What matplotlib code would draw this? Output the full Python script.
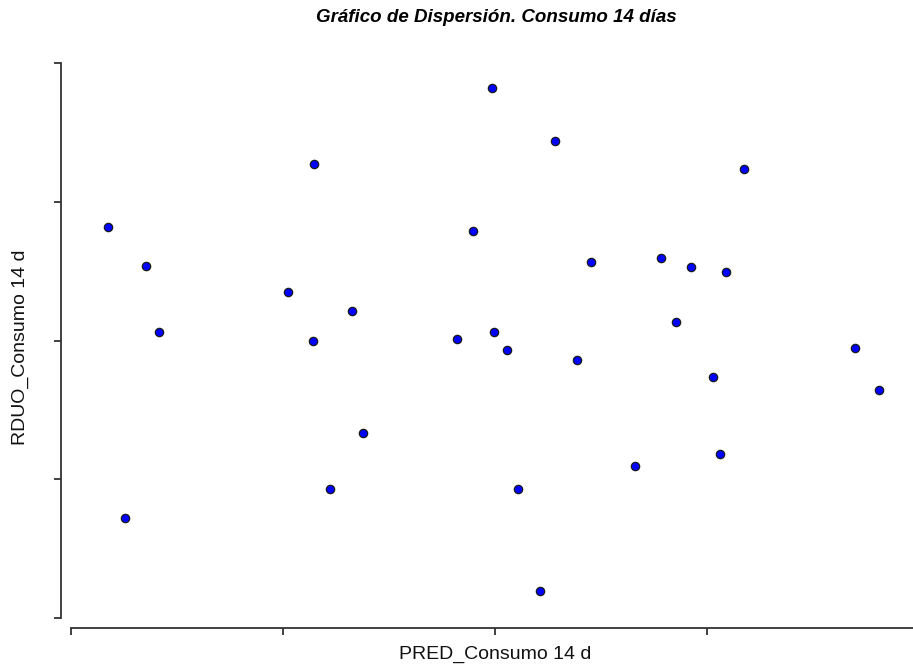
import matplotlib.pyplot as plt

plt.rcParams['font.family'] = ['Liberation Sans', 'DejaVu Sans']

# predicted vs residual, Consumo 14 d
pred = [0.175, 0.354, 0.415, 0.255, 1.024, 1.146, 1.142, 1.325, 1.222, 1.377,
        1.821, 1.896, 1.986, 1.995, 2.057, 2.108, 2.212, 2.283, 2.387, 2.453,
        2.660, 2.783, 2.854, 2.925, 3.028, 3.061, 3.090, 3.175, 3.698, 3.811]
rduo = [2.818, 2.537, 2.061, 0.721, 2.350, 3.272, 1.996, 2.213, 0.930, 1.334,
        2.011, 2.789, 3.819, 2.061, 1.931, 0.930, 0.195, 3.438, 1.859, 2.566,
        1.095, 2.595, 2.134, 2.530, 1.737, 1.182, 2.494, 3.236, 1.945, 1.643]

fig = plt.figure(figsize=(9.13, 6.68), dpi=100)
ax = fig.add_axes([71 / 913, 50 / 668, 842 / 913, 555 / 668])

ax.scatter(pred, rduo, s=36, c='#0000ff', edgecolors='#1a1a1a', linewidths=0.9,
           marker='o', zorder=3, clip_on=False)

ax.set_xlim(0, 842 / 212)
ax.set_ylim(0, 4)
ax.set_xticks([0, 1, 2, 3])
ax.set_yticks([0, 1, 2, 3, 4])
ax.set_xticklabels([])
ax.set_yticklabels([])

for side in ['top', 'right']:
    ax.spines[side].set_visible(False)
ax.spines['left'].set_position(('outward', 7.2))
ax.spines['bottom'].set_position(('outward', 7.2))
ax.spines['left'].set_bounds(0, 4)
for side in ['left', 'bottom']:
    ax.spines[side].set_color('#333333')
    ax.spines[side].set_linewidth(1.3)
ax.tick_params(direction='out', length=5, width=1.3, color='#333333')

fig.text(496 / 913, 1 - 18 / 668, 'Gráfico de Dispersión. Consumo 14 días',
         fontsize=13.5, fontweight='bold', fontstyle='italic',
         ha='center', va='center')
fig.text(495 / 913, 1 - 654 / 668, 'PRED_Consumo 14 d', fontsize=14,
         ha='center', va='center', color='#111111')
fig.text(20 / 913, 1 - 347 / 668, 'RDUO_Consumo 14 d', fontsize=14,
         ha='center', va='center', rotation=90, color='#111111')

fig.savefig('out.png', dpi=100)
